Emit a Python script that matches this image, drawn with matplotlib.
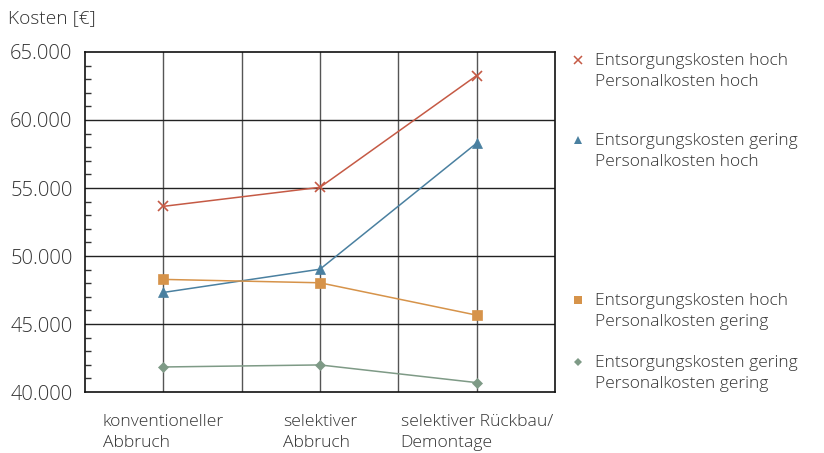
import matplotlib
matplotlib.use("Agg")
import matplotlib.pyplot as plt
from matplotlib.ticker import MultipleLocator, FuncFormatter
from matplotlib.lines import Line2D

plt.rcParams['font.family'] = ['Open Sans', 'DejaVu Sans']

categories = ["konventioneller\nAbbruch", "selektiver\nAbbruch", "selektiver Rückbau/\nDemontage"]
x_pos = [1, 3, 5]

s_hh = [53650, 55050, 63270]   # Entsorgung hoch, Personal hoch
s_gh = [47320, 49030, 58300]   # Entsorgung gering, Personal hoch
s_hg = [48280, 48030, 45650]   # Entsorgung hoch, Personal gering
s_gg = [41840, 41990, 40690]   # Entsorgung gering, Personal gering

labels = ["Entsorgungskosten hoch\nPersonalkosten hoch",
          "Entsorgungskosten gering\nPersonalkosten hoch",
          "Entsorgungskosten hoch\nPersonalkosten gering",
          "Entsorgungskosten gering\nPersonalkosten gering"]

colors = ["#C55A45", "#4A80A0", "#D6934A", "#7E9A86"]
markers = ["x", "^", "s", "D"]
msizes = [7, 7, 7, 5]

TXT = "#333333"
FS = 12.5
FW = "light"

W, H = 824, 453
fig = plt.figure(figsize=(W/100, H/100), dpi=100)
ax = fig.add_axes([85/W, 1-392/H, (555-85)/W, (392-52)/H])

ax.set_xlim(0, 6)
ax.set_ylim(40000, 65000)

# grid
for xv in range(1, 6):
    ax.axvline(xv, color="#555555", lw=1.0, zorder=1)
for yv in range(45000, 65000, 5000):
    ax.axhline(yv, color="#222222", lw=1.0, zorder=1)

series = [s_hh, s_gh, s_hg, s_gg]
for data, c, m, ms in zip(series, colors, markers, msizes):
    ax.plot(x_pos, data, color=c, lw=1.1, marker=m, markersize=ms,
            markeredgewidth=1.2 if m == "x" else 0.5, zorder=3)

for sp in ax.spines.values():
    sp.set_color("#111111")
    sp.set_linewidth(1.2)

ax.yaxis.set_major_locator(MultipleLocator(5000))
ax.yaxis.set_minor_locator(MultipleLocator(1000))
ax.yaxis.set_major_formatter(FuncFormatter(lambda v, p: f"{int(v):,}".replace(",", ".")))
ax.tick_params(axis="y", which="major", length=0, pad=9, labelsize=14.5, labelcolor=TXT)
ax.tick_params(axis="y", which="minor", direction="in", length=4, width=1, color="#333333")
for t in ax.get_yticklabels():
    t.set_fontweight(FW)

ax.set_xticks(x_pos)
ax.set_xticklabels(categories, multialignment="left", linespacing=1.4, fontweight=FW)
ax.tick_params(axis="x", length=0, pad=16, labelsize=12.6, labelcolor=TXT)

fig.text(8/W, 1-18/H, "Kosten [€]", fontsize=13.8, color=TXT, va="center", ha="left",
         fontweight=FW)

# legend entries (marker aligned with first text line)
leg_y = [60, 140, 300, 362]
for lbl, c, m, ms, yy in zip(labels, colors, markers, msizes, leg_y):
    fig.add_artist(Line2D([578/W], [1-yy/H], transform=fig.transFigure, color=c, marker=m,
                          linestyle="none", markersize=6 if m != "D" else 4.5,
                          markeredgewidth=1.1 if m == "x" else 0))
    fig.text(595/W, 1-(yy-7)/H, lbl, fontsize=FS, color=TXT, fontweight=FW,
             ha="left", va="top", linespacing=1.4)

fig.savefig("out.png", dpi=100)
